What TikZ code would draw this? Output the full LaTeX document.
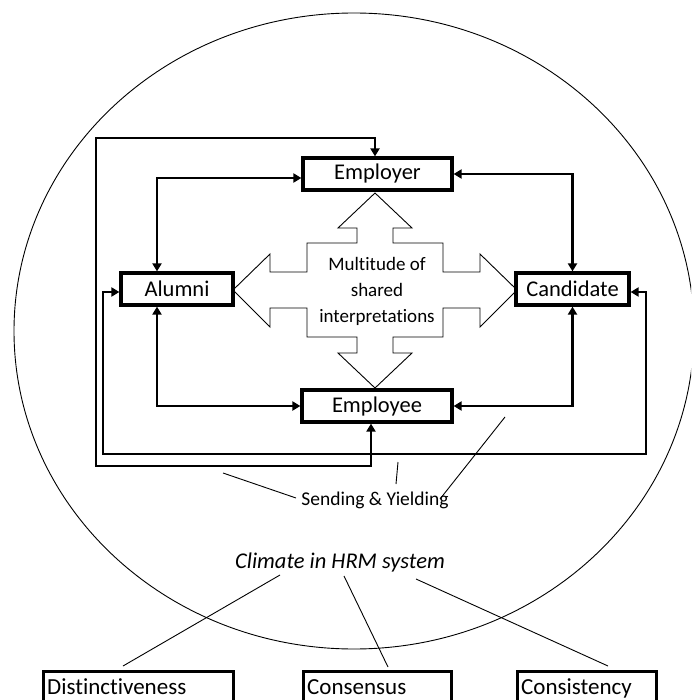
\documentclass[tikz,border=0pt]{standalone}
\usepackage{fontspec}
\setmainfont{Carlito}[Ligatures=NoCommon]
\usetikzlibrary{arrows.meta,calc}
\begin{document}
\begin{tikzpicture}[x=1pt,y=-1pt,
  actor/.style={draw, line width=3.2pt, inner sep=0pt, minimum height=32pt,
    font=\fontsize{22.5}{26}\selectfont},
  lowbox/.style={draw, line width=3.2pt, inner sep=0pt, minimum height=42pt},
  lowtext/.style={inner sep=0pt, font=\fontsize{23}{27}\selectfont},
  conn/.style={line width=2.4pt,
    {Triangle[length=8pt,width=9pt]}-{Triangle[length=8pt,width=9pt]}},
  thinline/.style={line width=0.9pt},
]
\clip (0,0) rectangle (691,700);

% enclosing climate ellipse
\draw[thinline] (354,331) ellipse [x radius=340pt, y radius=318pt];

% four-way arrow of shared interpretations
\draw[thinline, fill=white]
  (375,193) -- (412,228) -- (393,228) -- (393,243) -- (443,243) -- (443,272)
  -- (480,272) -- (480,254) -- (517,290) -- (480,327) -- (480,308) -- (443,308)
  -- (443,337) -- (393,337) -- (393,353) -- (412,353) -- (375,388) -- (338,353)
  -- (357,353) -- (357,337) -- (307,337) -- (307,308) -- (270,308) -- (270,327)
  -- (233,290) -- (270,254) -- (270,272) -- (307,272) -- (307,243) -- (357,243)
  -- (357,228) -- (338,228) -- cycle;
\node[align=center, font=\fontsize{19}{26}\selectfont] (shared) at (377,291)
  {Multitude of\\shared\\interpretations};

% stakeholders
\node[actor, minimum width=149pt] (employer)  at (377.5,174) {Employer};
\node[actor, minimum width=112pt] (alumni)    at (177,289)   {Alumni};
\node[actor, minimum width=113pt] (candidate) at (572.5,289) {Candidate};
\node[actor, minimum width=150pt] (employee)  at (377,406)   {Employee};

% direct links
\draw[conn] ([yshift=-4pt]employer.west) -| ([xshift=-20pt]alumni.north);
\draw[conn] (employer.east) -| (candidate.north);
\draw[conn] ([xshift=-20pt]alumni.south) |- (employee.west);
\draw[conn] (employee.east) -| (candidate.south);

% outer loops
\coordinate (loopA1) at (96,138);
\coordinate (loopA2) at (371,466);
\draw[conn] ([xshift=-2.5pt]employer.north) |- (loopA1) |- (loopA2)
  -- ([xshift=-6pt]employee.south);
\coordinate (loopB1) at (103,292);
\coordinate (loopB2) at (646,454);
\draw[conn] ([yshift=-3pt]alumni.west) -- (loopB1) |- (loopB2)
  |- ([yshift=-3pt]candidate.east);

% sending & yielding
\node[inner sep=0pt, font=\fontsize{19.5}{23}\selectfont] (send) at (375,500)
  {Sending \& Yielding};
\coordinate (s1) at (223,473);
\coordinate (s2) at (398,462);
\coordinate (s3) at (505,417);
\coordinate (t1) at (296,498);
\coordinate (t2) at (396,484);
\coordinate (t3) at (440,499);
\draw[thinline] (s1) -- (t1);
\draw[thinline] (s2) -- (t2);
\draw[thinline] (s3) -- (t3);

% climate and its three features
\node[inner sep=0pt, font=\fontsize{22.5}{26}\selectfont\itshape] (climate)
  at (340,562) {Climate in HRM system};

\node[lowbox, minimum width=190pt, anchor=north west] (dist) at (42,670) {};
\node[lowbox, minimum width=148pt, anchor=north west] (cons) at (302,670) {};
\node[lowbox, minimum width=139pt, anchor=north west] (consi) at (516,670) {};
\node[lowtext, anchor=base west] at ([xshift=5pt,yshift=-24pt]dist.north west)
  {Distinctiveness};
\node[lowtext, anchor=base west] at ([xshift=5pt,yshift=-24pt]cons.north west)
  {Consensus};
\node[lowtext, anchor=base west] at ([xshift=5pt,yshift=-24pt]consi.north west)
  {Consistency};

\coordinate (c1) at (280,575);
\coordinate (c2) at (344,576);
\coordinate (c3) at (416,579);
\coordinate (e1) at (123,666);
\coordinate (e2) at (388,667);
\coordinate (e3) at (608,666);
\draw[thinline] (c1) -- (e1);
\draw[thinline] (c2) -- (e2);
\draw[thinline] (c3) -- (e3);
\end{tikzpicture}
\end{document}
